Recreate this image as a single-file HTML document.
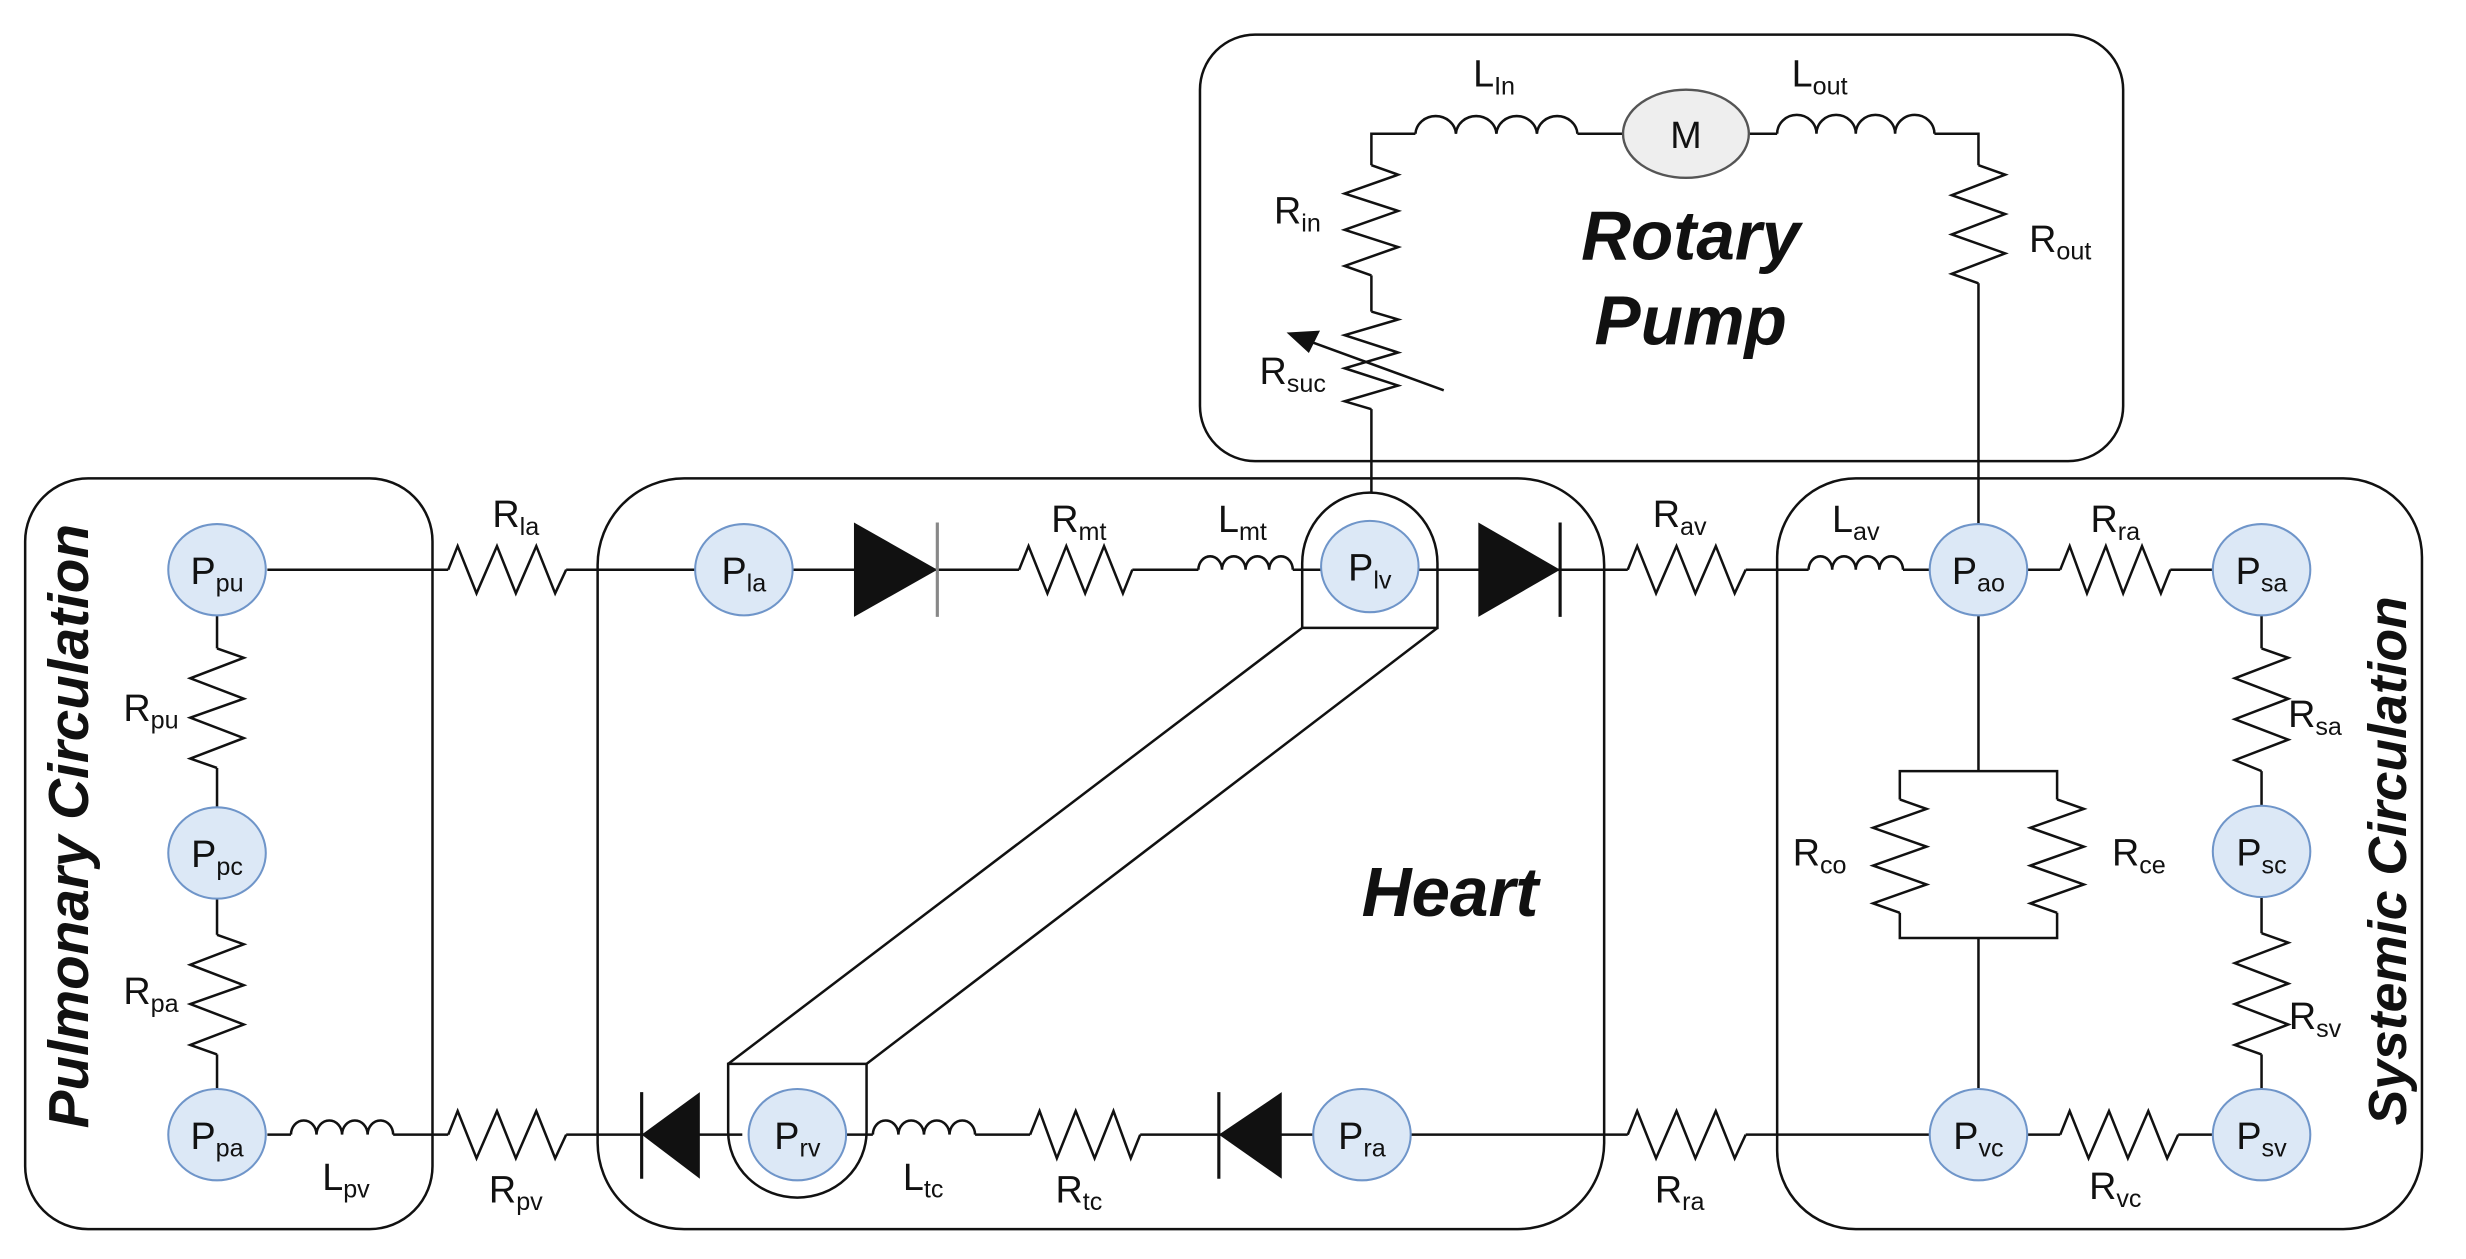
<!DOCTYPE html>
<html><head><meta charset="utf-8"><style>
html,body{margin:0;padding:0;background:#fff}
svg{display:block}
text{font-family:"Liberation Sans",Arial,sans-serif;fill:#111}
.lb{font-size:24px}
.sb{font-size:16px}
.big{font-size:44px;font-weight:bold;font-style:italic}
.mid{font-size:36px;font-weight:bold;font-style:italic}
</style></head><body>
<svg width="2466" height="1259" viewBox="0 0 1568 800" preserveAspectRatio="none" xmlns="http://www.w3.org/2000/svg">
<g fill="none" stroke="#111" stroke-width="1.6">
<rect x="16" y="304" width="259" height="477" rx="40"/>
<rect x="380" y="304" width="640" height="477" rx="55"/>
<rect x="1130" y="304" width="410" height="477" rx="50"/>
<rect x="763" y="22" width="587" height="271" rx="35"/>
<line x1="170" y1="362" x2="285" y2="362"/>
<line x1="360" y1="362" x2="442" y2="362"/>
<line x1="504" y1="362" x2="648" y2="362"/>
<line x1="720" y1="362" x2="762" y2="362"/>
<line x1="822" y1="362" x2="840" y2="362"/>
<line x1="902" y1="362" x2="1035" y2="362"/>
<line x1="1110" y1="362" x2="1150" y2="362"/>
<line x1="1210" y1="362" x2="1228" y2="362"/>
<line x1="1289" y1="362" x2="1310" y2="362"/>
<line x1="1380" y1="362" x2="1408" y2="362"/>
<line x1="170" y1="721" x2="185" y2="721"/>
<line x1="250" y1="721" x2="285" y2="721"/>
<line x1="360" y1="721" x2="472" y2="721"/>
<line x1="534" y1="721" x2="555" y2="721"/>
<line x1="620" y1="721" x2="655" y2="721"/>
<line x1="725" y1="721" x2="836" y2="721"/>
<line x1="897" y1="721" x2="1035" y2="721"/>
<line x1="1110" y1="721" x2="1228" y2="721"/>
<line x1="1289" y1="721" x2="1310" y2="721"/>
<line x1="1385" y1="721" x2="1408" y2="721"/>
<line x1="138" y1="391" x2="138" y2="412"/>
<line x1="138" y1="488" x2="138" y2="513"/>
<line x1="138" y1="571" x2="138" y2="594"/>
<line x1="138" y1="670" x2="138" y2="692"/>
<line x1="1438" y1="391" x2="1438" y2="412"/>
<line x1="1438" y1="490" x2="1438" y2="512"/>
<line x1="1438" y1="570" x2="1438" y2="593"/>
<line x1="1438" y1="670" x2="1438" y2="692"/>
<line x1="1258" y1="391" x2="1258" y2="490"/>
<line x1="1258" y1="596" x2="1258" y2="692"/>
<polyline points="1208,508 1208,490 1308,490 1308,508"/>
<polyline points="1208,580 1208,596 1308,596 1308,580"/>
<polyline points="872,313 872,260"/>
<polyline points="872,198 872,175"/>
<polyline points="872,105 872,85 900,85"/>
<line x1="1003" y1="85" x2="1032" y2="85"/>
<line x1="1112" y1="85" x2="1130" y2="85"/>
<polyline points="1230,85 1258,85 1258,105"/>
<line x1="1258" y1="180" x2="1258" y2="333"/>
<path d="M828,399 L828,358 A43,45 0 0 1 914,358 L914,399 Z"/>
<path d="M463,676 L551,676 L551,719 A44,42 0 0 1 463,719 Z"/>
<line x1="828" y1="399" x2="463" y2="676"/>
<line x1="914" y1="399" x2="551" y2="676"/>
<line x1="822" y1="213" x2="918" y2="248"/>
<polygon points="820,212 838,211 832,223" fill="#111"/>
<path d="M285,362 L291,347 L303,377 L316,347 L328,377 L341,347 L353,377 L360,362"/>
<path d="M285,721 L291,706 L303,736 L316,706 L328,736 L341,706 L353,736 L360,721"/>
<path d="M648,362 L654,347 L666,377 L678,347 L690,377 L702,347 L714,377 L720,362"/>
<path d="M1035,362 L1041,347 L1053,377 L1066,347 L1078,377 L1091,347 L1103,377 L1110,362"/>
<path d="M1310,362 L1316,347 L1327,377 L1339,347 L1350,377 L1362,347 L1374,377 L1380,362"/>
<path d="M1310,721 L1316,706 L1328,736 L1341,706 L1353,736 L1366,706 L1378,736 L1385,721"/>
<path d="M1035,721 L1041,706 L1053,736 L1066,706 L1078,736 L1091,706 L1103,736 L1110,721"/>
<path d="M655,721 L661,706 L672,736 L684,706 L696,736 L708,706 L719,736 L725,721"/>
<path d="M138,412 L155,418 L121,431 L155,444 L121,456 L155,469 L121,482 L138,488"/>
<path d="M138,594 L155,600 L121,613 L155,626 L121,638 L155,651 L121,664 L138,670"/>
<path d="M1438,412 L1455,418 L1421,431 L1455,444 L1421,457 L1455,470 L1421,483 L1438,490"/>
<path d="M1438,593 L1455,599 L1421,612 L1455,625 L1421,638 L1455,651 L1421,664 L1438,670"/>
<path d="M1208,508 L1225,514 L1191,526 L1225,538 L1191,550 L1225,562 L1191,574 L1208,580"/>
<path d="M1308,508 L1325,514 L1291,526 L1325,538 L1291,550 L1325,562 L1291,574 L1308,580"/>
<path d="M872,105 L889,111 L855,123 L889,134 L855,146 L889,157 L855,169 L872,175"/>
<path d="M872,198 L889,203 L855,213 L889,224 L855,234 L889,245 L855,255 L872,260"/>
<path d="M1258,105 L1275,111 L1241,124 L1275,136 L1241,149 L1275,161 L1241,174 L1258,180"/>
<path d="M185,721 a8.1,9 0 0 1 16.25,0 a8.1,9 0 0 1 16.25,0 a8.1,9 0 0 1 16.25,0 a8.1,9 0 0 1 16.25,0"/>
<path d="M762,362 a7.5,8.5 0 0 1 15,0 a7.5,8.5 0 0 1 15,0 a7.5,8.5 0 0 1 15,0 a7.5,8.5 0 0 1 15,0"/>
<path d="M1150,362 a7.5,8.5 0 0 1 15,0 a7.5,8.5 0 0 1 15,0 a7.5,8.5 0 0 1 15,0 a7.5,8.5 0 0 1 15,0"/>
<path d="M555,721 a8.1,9 0 0 1 16.25,0 a8.1,9 0 0 1 16.25,0 a8.1,9 0 0 1 16.25,0 a8.1,9 0 0 1 16.25,0"/>
<path d="M900,85 a12.9,12 0 0 1 25.75,0 a12.9,12 0 0 1 25.75,0 a12.9,12 0 0 1 25.75,0 a12.9,12 0 0 1 25.75,0"/>
<path d="M1130,85 a12.5,12 0 0 1 25,0 a12.5,12 0 0 1 25,0 a12.5,12 0 0 1 25,0 a12.5,12 0 0 1 25,0"/>
</g>
<g fill="#111" stroke="none">
<polygon points="543,332 543,392 596,362"/>
<polygon points="940,332 940,392 992,362"/>
<polygon points="815,694 815,749 775,721"/>
<polygon points="445,694 445,749 408,721"/>
</g>
<g stroke-width="2">
<line x1="596" y1="332" x2="596" y2="392" stroke="#888"/>
<line x1="992" y1="332" x2="992" y2="392" stroke="#111"/>
<line x1="775" y1="694" x2="775" y2="749" stroke="#111"/>
<line x1="408" y1="694" x2="408" y2="749" stroke="#111"/>
</g>
<g fill="#dce8f6" stroke="#6f95c9" stroke-width="1.3">
<ellipse cx="138" cy="362" rx="31" ry="29"/>
<ellipse cx="138" cy="542" rx="31" ry="29"/>
<ellipse cx="138" cy="721" rx="31" ry="29"/>
<ellipse cx="473" cy="362" rx="31" ry="29"/>
<ellipse cx="871" cy="360" rx="31" ry="29"/>
<ellipse cx="507" cy="721" rx="31" ry="29"/>
<ellipse cx="866" cy="721" rx="31" ry="29"/>
<ellipse cx="1258" cy="362" rx="31" ry="29"/>
<ellipse cx="1438" cy="362" rx="31" ry="29"/>
<ellipse cx="1438" cy="541" rx="31" ry="29"/>
<ellipse cx="1438" cy="721" rx="31" ry="29"/>
<ellipse cx="1258" cy="721" rx="31" ry="29"/>
</g>
<ellipse cx="1072" cy="85" rx="40" ry="28" fill="#eee" stroke="#555" stroke-width="1.5"/>
<text x="1072" y="94" class="lb" text-anchor="middle">M</text>
<g class="lb" text-anchor="middle">
<text x="138" y="371">P<tspan class="sb" dy="5">pu</tspan></text>
<text x="138" y="551">P<tspan class="sb" dy="5">pc</tspan></text>
<text x="138" y="730">P<tspan class="sb" dy="5">pa</tspan></text>
<text x="473" y="371">P<tspan class="sb" dy="5">la</tspan></text>
<text x="871" y="369">P<tspan class="sb" dy="5">lv</tspan></text>
<text x="507" y="730">P<tspan class="sb" dy="5">rv</tspan></text>
<text x="866" y="730">P<tspan class="sb" dy="5">ra</tspan></text>
<text x="1258" y="371">P<tspan class="sb" dy="5">ao</tspan></text>
<text x="1438" y="371">P<tspan class="sb" dy="5">sa</tspan></text>
<text x="1438" y="550">P<tspan class="sb" dy="5">sc</tspan></text>
<text x="1438" y="730">P<tspan class="sb" dy="5">sv</tspan></text>
<text x="1258" y="730">P<tspan class="sb" dy="5">vc</tspan></text>
<text x="328" y="335">R<tspan class="sb" dy="5">la</tspan></text>
<text x="328" y="764">R<tspan class="sb" dy="5">pv</tspan></text>
<text x="220" y="756">L<tspan class="sb" dy="5">pv</tspan></text>
<text x="96" y="458">R<tspan class="sb" dy="5">pu</tspan></text>
<text x="96" y="638">R<tspan class="sb" dy="5">pa</tspan></text>
<text x="686" y="338">R<tspan class="sb" dy="5">mt</tspan></text>
<text x="790" y="338">L<tspan class="sb" dy="5">mt</tspan></text>
<text x="1068" y="335">R<tspan class="sb" dy="5">av</tspan></text>
<text x="1180" y="338">L<tspan class="sb" dy="5">av</tspan></text>
<text x="1345" y="338">R<tspan class="sb" dy="5">ra</tspan></text>
<text x="1472" y="462">R<tspan class="sb" dy="5">sa</tspan></text>
<text x="1472" y="654">R<tspan class="sb" dy="5">sv</tspan></text>
<text x="1345" y="762">R<tspan class="sb" dy="5">vc</tspan></text>
<text x="1068" y="764">R<tspan class="sb" dy="5">ra</tspan></text>
<text x="686" y="764">R<tspan class="sb" dy="5">tc</tspan></text>
<text x="587" y="756">L<tspan class="sb" dy="5">tc</tspan></text>
<text x="1157" y="550">R<tspan class="sb" dy="5">co</tspan></text>
<text x="1360" y="550">R<tspan class="sb" dy="5">ce</tspan></text>
<text x="950" y="55">L<tspan class="sb" dy="5">In</tspan></text>
<text x="1157" y="55">L<tspan class="sb" dy="5">out</tspan></text>
<text x="825" y="142">R<tspan class="sb" dy="5">in</tspan></text>
<text x="1310" y="160">R<tspan class="sb" dy="5">out</tspan></text>
<text x="822" y="244">R<tspan class="sb" dy="5">suc</tspan></text>
</g>
<text x="1075" y="165" class="big" text-anchor="middle">Rotary</text>
<text x="1075" y="219" class="big" text-anchor="middle">Pump</text>
<text x="922" y="582" class="big" text-anchor="middle">Heart</text>
<text class="mid" text-anchor="middle" transform="translate(56,525) rotate(-90)">Pulmonary Circulation</text>
<text class="mid" text-anchor="middle" style="font-size:34px" transform="translate(1530,547) rotate(-90)">Systemic Circulation</text>
</svg>
</body></html>
